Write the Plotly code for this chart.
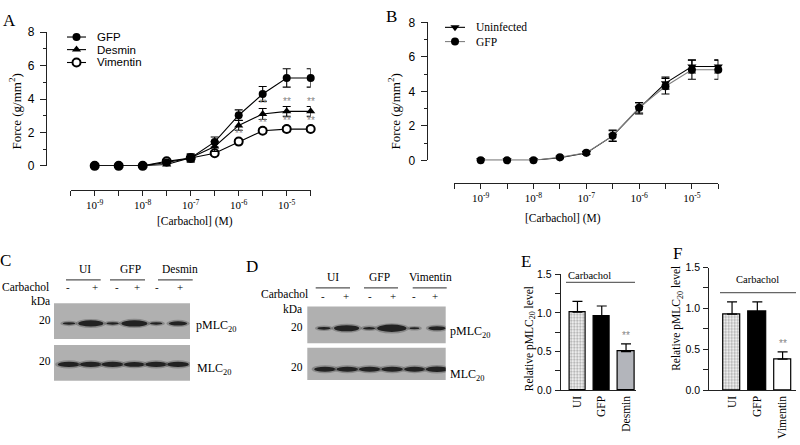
import plotly.graph_objects as go

W, H = 800, 445
def fx(p): return p / W
def fy(p): return 1 - p / H

SERIF = "Liberation Serif"
SANS = "Liberation Sans"

# ---------------- data ----------------
conc = [1e-9, 3.16e-9, 1e-8, 3.16e-8, 1e-7, 3.16e-7, 1e-6, 3.16e-6, 1e-5, 3.16e-5]
decade_ticks = [1e-9, 1e-8, 1e-7, 1e-6, 1e-5]
decade_text = ["10<sup>-9</sup>", "10<sup>-8</sup>", "10<sup>-7</sup>", "10<sup>-6</sup>", "10<sup>-5</sup>"]
half_ticks = [3.16e-10, 3.16e-9, 3.16e-8, 3.16e-7, 3.16e-6, 3.16e-5]

a_gfp = [0, 0, 0, 0.2, 0.47, 1.43, 3.03, 4.3, 5.26, 5.26]
a_gfp_err = [0, 0, 0, 0.05, 0.25, 0.3, 0.32, 0.45, 0.55, 0.55]
a_des = [0, 0, 0, 0.08, 0.48, 1.16, 2.42, 3.1, 3.26, 3.26]
a_des_err = [0, 0, 0, 0.08, 0.2, 0.3, 0.3, 0.33, 0.29, 0.29]
a_vim = [0, 0, 0, 0.27, 0.47, 0.75, 1.45, 2.1, 2.2, 2.2]
a_vim_err = [0, 0, 0, 0.05, 0.1, 0.12, 0.12, 0.15, 0.15, 0.15]
a_des_sig = [7, 8, 9]
a_vim_sig = [6, 7, 8, 9]

b_uninf = [0, 0, 0, 0.15, 0.42, 1.42, 3.02, 4.48, 5.45, 5.45]
b_uninf_err = [0, 0, 0, 0.05, 0.08, 0.33, 0.33, 0.35, 0.38, 0.38]
b_gfp = [0, 0, 0, 0.18, 0.44, 1.42, 3.05, 4.3, 5.26, 5.26]
b_gfp_err = [0, 0, 0, 0.05, 0.08, 0.3, 0.3, 0.45, 0.55, 0.55]

lanes = [1, 2, 3, 4, 5, 6]
carb = ["-", "+", "-", "+", "-", "+"]
c_groups = ["UI", "GFP", "Desmin"]
c_pmlc = [0.2, 0.95, 0.2, 1.0, 0.2, 0.55]
c_mlc = [0.8, 0.75, 0.75, 0.7, 0.75, 0.75]
d_groups = ["UI", "GFP", "Vimentin"]
d_pmlc = [0.25, 0.95, 0.2, 1.2, 0.05, 0.5]
d_mlc = [0.75, 0.75, 0.75, 0.75, 0.7, 0.8]

e_cats = ["UI", "GFP", "Desmin"]
e_vals = [1.01, 0.96, 0.50]
e_err = [0.14, 0.13, 0.10]
e_sig = [2]
f_cats = ["UI", "GFP", "Vimentin"]
f_vals = [0.93, 0.96, 0.38]
f_err = [0.15, 0.12, 0.09]
f_sig = [2]

fig = go.Figure()
shapes = []
ann = []

def text(x, y, t, size=11.5, font=SERIF, color="black", xanchor="center", yanchor="middle",
         angle=0):
    ann.append(dict(x=fx(x), y=fy(y), xref="paper", yref="paper", text=t, showarrow=False,
                    xanchor=xanchor, yanchor=yanchor, textangle=angle,
                    font=dict(family=font, size=size, color=color)))

def hline(x0, x1, y, color="#555", width=1.3):
    shapes.append(dict(type="line", xref="paper", yref="paper", x0=fx(x0), x1=fx(x1),
                       y0=fy(y), y1=fy(y), line=dict(color=color, width=width)))

AX = dict(showgrid=False, zeroline=False, showline=True, linecolor="#222", linewidth=1.2,
          ticks="outside", tickcolor="#222", tickwidth=1.2)

# ---------------- Panel A ----------------
def curve(xa, ya, y, err, symbol, color="black", lcolor="black", fill="black", lw=0):
    fig.add_trace(go.Scatter(
        x=conc, y=y, xaxis=xa, yaxis=ya, mode="lines+markers", cliponaxis=False,
        line=dict(color=lcolor, width=1.1),
        marker=dict(symbol=symbol, size=8, color=fill, line=dict(color=color, width=lw)),
        error_y=dict(type="data", array=err, color="black", thickness=1.1, width=4),
        showlegend=False, hoverinfo="skip"))

curve("x", "y", a_vim, a_vim_err, "circle", fill="white", lw=2)
curve("x", "y", a_des, a_des_err, "triangle-up")
curve("x", "y", a_gfp, a_gfp_err, "circle")

def stars(xa, ya, xv, yv, shift):
    ann.append(dict(x=xv, y=yv, xref=xa, yref=ya, yshift=shift, text="**", showarrow=False,
                    yanchor="middle", font=dict(family=SANS, size=10, color="#858585")))

for i in a_des_sig:
    stars("x", "y", -9 + 0.5 * i, a_des[i] + a_des_err[i], 5)
for i in a_vim_sig:
    stars("x", "y", -9 + 0.5 * i, a_vim[i] + a_vim_err[i], 6)

def dose_axes(n, xl, xr, xpos, yt, yb, ypos):
    sx = "" if n == 1 else str(n)
    fig.update_layout(**{
        "xaxis" + sx: dict(AX, domain=[fx(xl), fx(xr)], type="log", range=[-9.5, -4.5],
                           anchor="free", position=fy(xpos), tickvals=decade_ticks,
                           ticktext=decade_text, ticklen=5,
                           tickfont=dict(family=SERIF, size=11, color="black"),
                           minor=dict(tickvals=half_ticks, ticklen=5, ticks="outside",
                                      tickcolor="#222", tickwidth=1.2)),
        "yaxis" + sx: dict(AX, domain=[fy(yb), fy(yt)], range=[0, 8], anchor="free",
                           position=fx(ypos), tickvals=[0, 2, 4, 6, 8], ticklen=6,
                           ticklabelstandoff=3,
                           tickfont=dict(family=SANS, size=12, color="black"),
                           minor=dict(tickvals=[1, 3, 5, 7], ticklen=3, ticks="outside",
                                      tickcolor="#222", tickwidth=1.2)),
    })

dose_axes(1, 70.7, 310.7, 189, 26, 164, 46)
text(195, 221, "[Carbachol] (M)")
text(15, 108, "Force (g/mm<sup>2</sup>)", size=13, angle=-90)

# ---------------- Panel B ----------------
curve("x2", "y2", b_uninf, b_uninf_err, "triangle-down")
curve("x2", "y2", b_gfp, b_gfp_err, "circle", lcolor="#808080")
dose_axes(2, 454.3, 718.3, 181.7, 16, 158.3, 426.7)
text(563, 218, "[Carbachol] (M)")
text(394, 108, "Force (g/mm<sup>2</sup>)", size=13, angle=-90)

# ---------------- legends (overlay axis in pixel units) ----------------
fig.update_layout(
    xaxis9=dict(domain=[0, 1], range=[0, W], visible=False, fixedrange=True),
    yaxis9=dict(domain=[0, 1], range=[H, 0], visible=False, fixedrange=True),
)
def leg(x0, x1, y, symbol, label, font, size, lcolor="black", fill="black", lw=0):
    fig.add_trace(go.Scatter(x=[x0, x1], y=[y, y], xaxis="x9", yaxis="y9", mode="lines",
                             line=dict(color=lcolor, width=1.1), showlegend=False,
                             hoverinfo="skip"))
    fig.add_trace(go.Scatter(x=[(x0 + x1) / 2], y=[y], xaxis="x9", yaxis="y9", mode="markers",
                             marker=dict(symbol=symbol, size=8, color=fill,
                                         line=dict(color="black", width=lw)),
                             showlegend=False, hoverinfo="skip"))
    text(x1 + 9, y, label, size=size, font=font, xanchor="left")

leg(67, 86, 31, "circle", "GFP", SANS, 11.5)
leg(67, 86, 44, "triangle-up", "Desmin", SANS, 11.5)
leg(67, 86, 57.3, "circle", "Vimentin", SANS, 11.5, fill="white", lw=2)
leg(445, 465, 21, "triangle-down", "Uninfected", SERIF, 11.5)
leg(445, 465, 35.7, "circle", "GFP", SERIF, 11.5, lcolor="#808080")

# ---------------- Western blots ----------------
def blot(n, left, right, top, bottom, l1, l6, band_y, intens):
    s = (l6 - l1) / 5.0
    fig.update_layout(**{
        "xaxis%d" % n: dict(domain=[fx(left), fx(right)],
                            range=[1 - (l1 - left) / s, 6 + (right - l6) / s],
                            visible=False, anchor="y%d" % n),
        "yaxis%d" % n: dict(domain=[fy(bottom), fy(top)],
                            range=[-(bottom - band_y), band_y - top],
                            visible=False, anchor="x%d" % n),
    })
    fig.add_trace(go.Scatter(x=lanes, y=[0] * 6, xaxis="x%d" % n, yaxis="y%d" % n,
                             mode="markers", marker=dict(opacity=0), showlegend=False,
                             hoverinfo="skip"))
    shapes.append(dict(type="rect", xref="x%d domain" % n, yref="y%d domain" % n,
                       x0=0, x1=1, y0=0, y1=1, fillcolor="#b0b0b0", line=dict(width=0),
                       layer="below"))
    for lane, I in zip(lanes, intens):
        w = 9 + 17 * I
        h = 1.6 + 5 * I
        for ww, hh, col, op in [(w + 5, h + 3, "#5a5a5a", 0.45), (w, h, "#1c1c1c", 0.95)]:
            shapes.append(dict(type="circle", xref="x%d" % n, yref="y%d" % n,
                               x0=lane - ww / 2 / s, x1=lane + ww / 2 / s,
                               y0=-hh / 2, y1=hh / 2, fillcolor=col, opacity=op,
                               line=dict(width=0)))

# Panel C
blot(3, 54, 190, 306, 342.7, 69, 178, 326.7, c_pmlc)
blot(4, 54, 190, 349, 386, 69, 178, 369, c_mlc)
for gx, (g, (u0, u1)) in zip([85, 130, 180], zip(c_groups, [(66, 100.7), (110, 145), (158, 192.7)])):
    text(gx, 270, g)
    hline(u0, u1, 281.7)
text(51, 289, "Carbachol", xanchor="right")
for px, c in zip([68, 95, 117, 137, 157, 180], carb):
    text(px, 289, c, size=11)
text(52, 304, "kDa", xanchor="right")
text(52.5, 322.7, "20", xanchor="right")
text(52.5, 365, "20", xanchor="right")
text(194, 329, "pMLC<sub>20</sub>", size=12, xanchor="left")
text(195, 374, "MLC<sub>20</sub>", size=12, xanchor="left")

# Panel D
blot(5, 307.3, 445.7, 309.3, 347.3, 324, 437, 331.7, d_pmlc)
blot(6, 307.3, 445.7, 351.7, 385, 325, 437, 374, d_mlc)
for gx, (g, (u0, u1)) in zip([333, 379, 430.7], zip(d_groups, [(315.7, 350), (364, 398), (412.7, 446.7)])):
    text(gx, 279, g)
    hline(u0, u1, 290)
text(310, 296, "Carbachol", xanchor="right")
for px, c in zip([322.7, 346, 370, 392.7, 414, 435], carb):
    text(px, 298, c, size=11)
text(304, 311.7, "kDa", xanchor="right")
text(304.5, 330, "20", xanchor="right")
text(304.5, 371.7, "20", xanchor="right")
text(448, 336, "pMLC<sub>20</sub>", size=12, xanchor="left")
text(448, 380, "MLC<sub>20</sub>", size=12, xanchor="left")

# ---------------- Panels E, F ----------------
def bars(n, cats, vals, errs, colors, sig, xl, xr, yt, rng, carb_x, carb_y, line_y, lx0, lx1):
    fig.add_trace(go.Bar(
        x=cats, y=vals, xaxis="x%d" % n, yaxis="y%d" % n, width=0.68,
        marker=dict(color=colors, line=dict(color="black", width=1.2),
                    pattern=dict(shape=[".", "", ""], fgcolor="#6a6a6a", size=3, solidity=0.45)),
        error_y=dict(type="data", array=errs, arrayminus=[0] * len(errs), symmetric=False,
                     color="black", thickness=1.2, width=5),
        showlegend=False, hoverinfo="skip", cliponaxis=False))
    fig.update_layout(**{
        "xaxis%d" % n: dict(AX, domain=[fx(xl), fx(xr)], anchor="y%d" % n, type="category",
                            range=rng, ticks="", tickangle=-90,
                            tickfont=dict(family=SERIF, size=11.5, color="black")),
        "yaxis%d" % n: dict(AX, domain=[fy(395.7), fy(yt)], anchor="x%d" % n, range=[0, 1.5],
                            tickvals=[0, 0.5, 1.0, 1.5], ticktext=["0.0", "0.5", "1.0", "1.5"],
                            ticklen=5, ticklabelstandoff=1,
                            tickfont=dict(family=SANS, size=10.5, color="black"),
                            minor=dict(tickvals=[0.25, 0.75, 1.25], ticklen=5, ticks="outside",
                                       tickcolor="#222", tickwidth=1.2)),
    })
    for i in sig:
        stars("x%d" % n, "y%d" % n, cats[i], vals[i] + errs[i], 8)
    text(carb_x, carb_y, "Carbachol", size=10.5)
    hline(lx0, lx1, line_y, color="#666", width=1.2)

bars(7, e_cats, e_vals, e_err, ["white", "black", "#b3b5bb"], e_sig,
     560.7, 636, 276, [-0.69, 2.41], 589, 277.3, 284.3, 566, 635)
text(530, 343, "Relative pMLC<sub>20</sub> level", size=11.5, angle=-90)
bars(8, f_cats, f_vals, f_err, ["white", "black", "white"], f_sig,
     709.3, 796, 269, [-0.9, 2.53], 757, 281.7, 295, 720, 796)
text(677, 322, "Relative pMLC<sub>20</sub> level", size=11.5, angle=-90)

# ---------------- panel letters ----------------
for lx, ly, L in [(9.5, 14, "A"), (391, 10, "B"), (5, 262, "C"), (251.5, 267.5, "D"),
                  (526, 263, "E"), (677.5, 255, "F")]:
    text(lx, ly, L, size=17)

fig.update_layout(width=W, height=H, margin=dict(l=0, r=0, t=0, b=0, pad=0),
                  paper_bgcolor="white", plot_bgcolor="rgba(0,0,0,0)",
                  shapes=shapes, annotations=ann, showlegend=False, bargap=0)
fig.write_html("out.html", config={"displayModeBar": False},
               post_script="document.body.style.margin='0px';document.body.style.overflow='hidden';")
